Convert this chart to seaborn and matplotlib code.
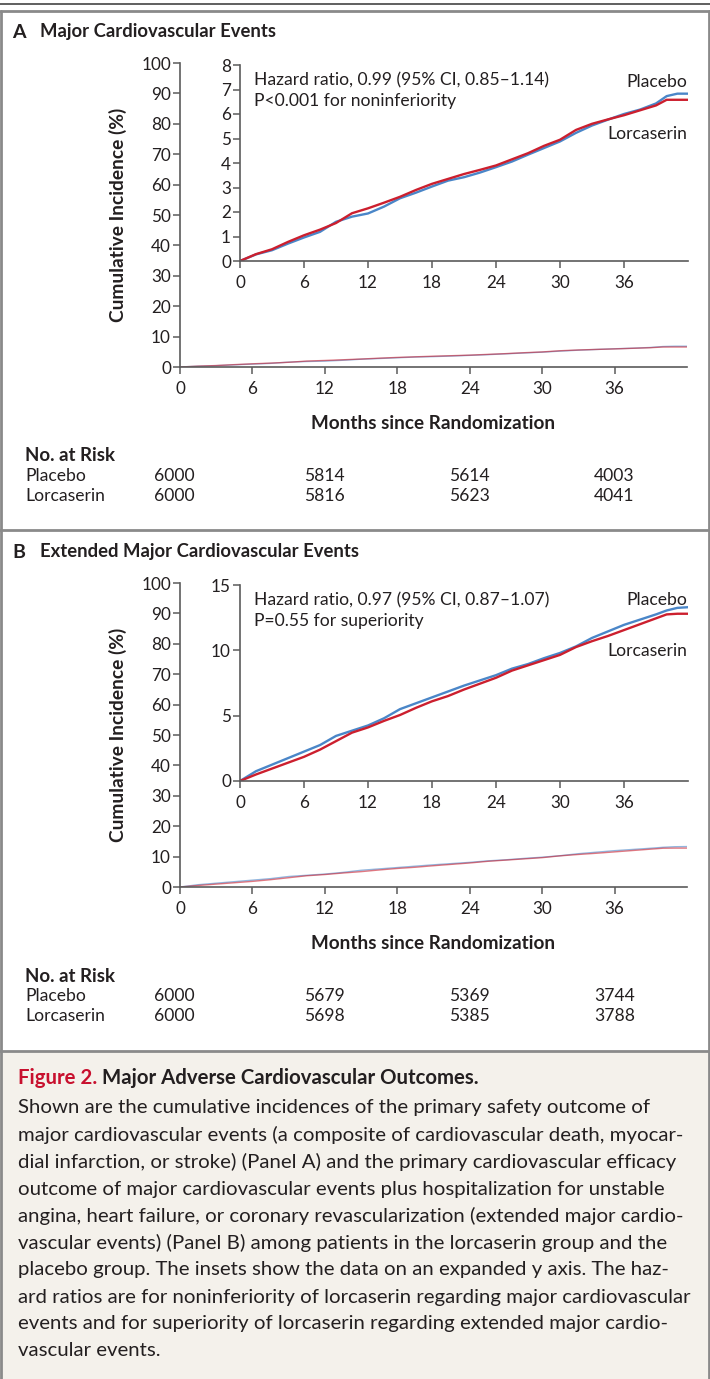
import numpy as np
import pandas as pd
import matplotlib
matplotlib.use("Agg")
import matplotlib.pyplot as plt
import seaborn as sns
from matplotlib.lines import Line2D
from matplotlib.patches import Rectangle

# ---------------- data ----------------
months = [0, 1.5, 3, 4.5, 6, 7.5, 9, 10.5, 12, 13.5, 15, 16.5, 18, 19.5, 21, 22.5,
          24, 25.5, 27, 28.5, 30, 31.5, 33, 34.5, 36, 37.5, 39, 40, 41, 42]
a_placebo = [0, 0.27, 0.44, 0.71, 0.96, 1.19, 1.60, 1.81, 1.94, 2.22, 2.56, 2.79, 3.04, 3.28,
             3.42, 3.61, 3.83, 4.06, 4.34, 4.61, 4.88, 5.23, 5.53, 5.77, 6.00, 6.18, 6.43,
             6.73, 6.83, 6.83]
a_lorcaserin = [0, 0.28, 0.48, 0.78, 1.05, 1.28, 1.55, 1.95, 2.15, 2.38, 2.62, 2.90, 3.15, 3.35,
                3.55, 3.72, 3.90, 4.15, 4.40, 4.70, 4.95, 5.35, 5.60, 5.78, 5.95, 6.15, 6.35,
                6.58, 6.58, 6.58]
b_placebo = [0, 0.75, 1.25, 1.75, 2.25, 2.75, 3.45, 3.85, 4.25, 4.80, 5.50, 5.95, 6.40, 6.85,
             7.30, 7.70, 8.10, 8.60, 8.95, 9.40, 9.80, 10.30, 10.95, 11.45, 11.95, 12.35, 12.75,
             13.05, 13.25, 13.30]
b_lorcaserin = [0, 0.50, 0.95, 1.40, 1.85, 2.40, 3.05, 3.70, 4.10, 4.60, 5.05, 5.60, 6.10, 6.50,
                7.00, 7.45, 7.90, 8.45, 8.85, 9.25, 9.65, 10.25, 10.70, 11.10, 11.55, 12.00, 12.45,
                12.75, 12.80, 12.80]

risk_months = [0, 12, 24, 36]
a_risk_placebo = [6000, 5814, 5614, 4003]
a_risk_lorcaserin = [6000, 5816, 5623, 4041]
b_risk_placebo = [6000, 5679, 5369, 3744]
b_risk_lorcaserin = [6000, 5698, 5385, 3788]

x_ticks = [0, 6, 12, 18, 24, 30, 36]
main_yticks = [0, 10, 20, 30, 40, 50, 60, 70, 80, 90, 100]
inset_a_yticks = [0, 1, 2, 3, 4, 5, 6, 7, 8]
inset_b_yticks = [0, 5, 10, 15]

a_hr = ["Hazard ratio, 0.99 (95% CI, 0.85\u20131.14)", "P<0.001 for noninferiority"]
b_hr = ["Hazard ratio, 0.97 (95% CI, 0.87\u20131.07)", "P=0.55 for superiority"]

caption_title_red = "Figure 2."
caption_title = " Major Adverse Cardiovascular Outcomes."
caption_lines = [
    "Shown are the cumulative incidences of the primary safety outcome of",
    "major cardiovascular events (a composite of cardiovascular death, myocar-",
    "dial infarction, or stroke) (Panel A) and the primary cardiovascular efficacy",
    "outcome of major cardiovascular events plus hospitalization for unstable",
    "angina, heart failure, or coronary revascularization (extended major cardio-",
    "vascular events) (Panel B) among patients in the lorcaserin group and the",
    "placebo group. The insets show the data on an expanded y axis. The haz-",
    "ard ratios are for noninferiority of lorcaserin regarding major cardiovascular",
    "events and for superiority of lorcaserin regarding extended major cardio-",
    "vascular events.",
]

# ---------------- style ----------------
sns.set_theme(style="ticks")
plt.rcParams["font.family"] = ["Lato", "DejaVu Sans"]
TXT = "#231f20"
SPINE = "#5b5b5b"
BLUE = "#4a86c8"
RED = "#cc1f2e"
plt.rcParams["text.color"] = TXT
FS = 12.6        # general text
FS_TICK = 12.3
FS_BOLD = 13.4

W, H = 710, 1379
fig = plt.figure(figsize=(W / 100, H / 100), dpi=100)


def fx(px):
    return px / W


def fy(py):
    return 1 - py / H


def add_axes_px(left, top, right, bottom):
    return fig.add_axes([fx(left), fy(bottom), fx(right - left), (bottom - top) / H])


def style_ax(ax, yticks, ymax):
    ax.set_facecolor("none")
    sns.despine(ax=ax)
    for s in ("left", "bottom"):
        ax.spines[s].set_color(SPINE)
        ax.spines[s].set_linewidth(1.2)
    ax.set_xlim(0, 42)
    ax.set_ylim(0, ymax)
    ax.set_xticks(x_ticks)
    ax.set_yticks(yticks)
    ax.tick_params(axis="both", direction="out", length=5, width=1.1, color=SPINE,
                   labelsize=FS_TICK, labelcolor=TXT, pad=1.5)
    ax.tick_params(axis="x", pad=5)
    ax.set_xlabel("")
    ax.set_ylabel("")


def draw_panel(top_off, letter, title, plac, lorc, inset_ticks, inset_max, hr,
               lab_plac_y, lab_lorc_y, risk_p, risk_l):
    fig.text(fx(12), fy(top_off + 32), letter, fontsize=14, fontweight="bold",
             va="center", ha="left", color=TXT)
    fig.text(fx(40), fy(top_off + 32), title, fontsize=13.3, fontweight="bold",
             va="center", ha="left", color=TXT)

    df = pd.DataFrame({"Month": months * 2,
                       "Incidence": plac + lorc,
                       "Group": ["Placebo"] * len(months) + ["Lorcaserin"] * len(months)})
    pal = {"Placebo": BLUE, "Lorcaserin": RED}

    # main axes
    ax = add_axes_px(180, top_off + 63, 687, top_off + 367)
    sns.lineplot(data=df, x="Month", y="Incidence", hue="Group", palette=pal,
                 linewidth=1.0, alpha=0.6, legend=False, ax=ax, estimator=None)
    style_ax(ax, main_yticks, 100)
    ax.set_xlabel("Months since Randomization", fontsize=FS_BOLD + 0.2, fontweight="bold",
                  color=TXT, labelpad=13)
    ax.set_ylabel("Cumulative Incidence (%)", fontsize=FS_BOLD + 0.4, fontweight="bold",
                  color=TXT, labelpad=10)

    # inset axes
    axi = add_axes_px(240, top_off + 65, 688, top_off + 261)
    sns.lineplot(data=df, x="Month", y="Incidence", hue="Group", palette=pal,
                 linewidth=1.7, legend=False, ax=axi, estimator=None)
    style_ax(axi, inset_ticks, inset_max)
    fig.text(fx(254), fy(top_off + 80), hr[0], fontsize=FS, va="center", ha="left")
    fig.text(fx(254), fy(top_off + 101), hr[1], fontsize=FS, va="center", ha="left")
    fig.text(fx(687), fy(top_off + lab_plac_y), "Placebo", fontsize=FS,
             va="center", ha="right")
    fig.text(fx(687), fy(top_off + lab_lorc_y), "Lorcaserin", fontsize=FS,
             va="center", ha="right")

    # risk table
    fig.text(fx(25), fy(top_off + 456), "No. at Risk", fontsize=FS_BOLD, fontweight="bold",
             va="center", ha="left")
    fig.text(fx(25), fy(top_off + 476), "Placebo", fontsize=FS, va="center", ha="left")
    fig.text(fx(25), fy(top_off + 496), "Lorcaserin", fontsize=FS, va="center", ha="left")
    for m, vp, vl in zip(risk_months, risk_p, risk_l):
        xpx = 180 + (687 - 180) * m / 42 - (6 if m == 0 else 0)
        fig.text(fx(xpx), fy(top_off + 476), str(vp), fontsize=FS, va="center", ha="center")
        fig.text(fx(xpx), fy(top_off + 496), str(vl), fontsize=FS, va="center", ha="center")


draw_panel(0, "A", "Major Cardiovascular Events", a_placebo, a_lorcaserin,
           inset_a_yticks, 8, a_hr, 82, 134, a_risk_placebo, a_risk_lorcaserin)
draw_panel(520, "B", "Extended Major Cardiovascular Events", b_placebo, b_lorcaserin,
           inset_b_yticks, 15, b_hr, 80, 131, b_risk_placebo, b_risk_lorcaserin)

# ---------------- frame ----------------
fig.add_artist(Rectangle((0, 0), fx(710), fy(1051), transform=fig.transFigure,
                         facecolor="#f4f1eb", edgecolor="none", zorder=-5))
BORDER = "#8a8a8a"
for y, c, lw in [(4, "#444444", 1.2), (11, BORDER, 2.0), (530, BORDER, 2.0), (1051, BORDER, 2.0)]:
    fig.add_artist(Line2D([0, 1], [fy(y), fy(y)], transform=fig.transFigure, color=c, lw=lw))
for x in (1, 708.5):
    fig.add_artist(Line2D([fx(x), fx(x)], [fy(11), 0], transform=fig.transFigure,
                          color=BORDER, lw=2.0))

# ---------------- caption ----------------
fig.canvas.draw()
renderer = fig.canvas.get_renderer()
widths = []
for line in caption_lines:
    probe = fig.text(0, 0, line, fontsize=10)
    widths.append(probe.get_window_extent(renderer).width)
    probe.remove()
cap_fs = 10 * 674 / max(widths)

t1 = fig.text(fx(18), fy(1078), caption_title_red, fontsize=cap_fs, fontweight="bold",
              color="#c8102e", va="center", ha="left")
fig.canvas.draw()
bb = t1.get_window_extent(renderer)
fig.text(bb.x1 / W, fy(1078), caption_title, fontsize=cap_fs, fontweight="bold",
         color=TXT, va="center", ha="left")
for i, line in enumerate(caption_lines):
    fig.text(fx(18), fy(1108 + 27 * i), line, fontsize=cap_fs, va="center", ha="left",
             color=TXT)

fig.savefig("out.png", dpi=100)
